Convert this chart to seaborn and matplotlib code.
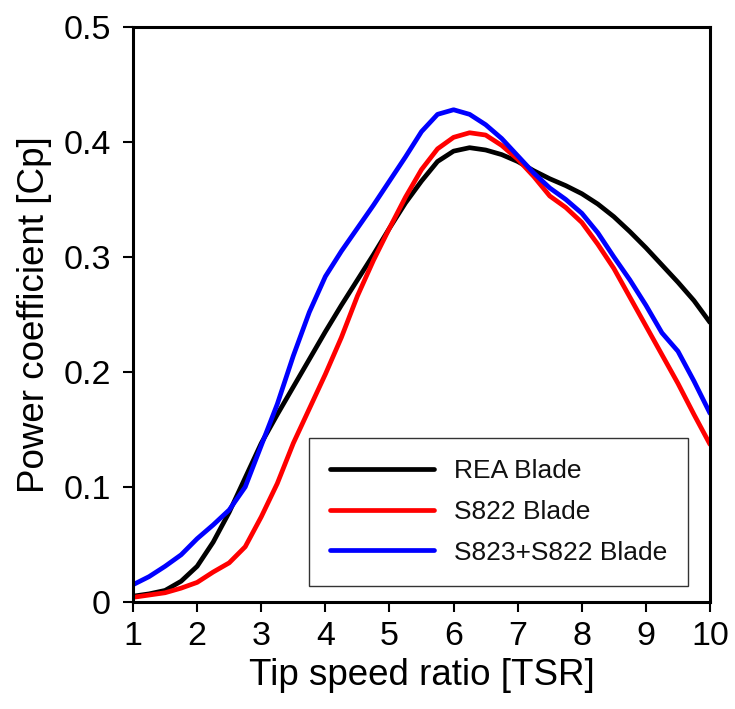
import matplotlib
matplotlib.use("Agg")
import matplotlib.pyplot as plt
import seaborn as sns
import pandas as pd

# Tip speed ratio grid
tsr = [1.0, 1.25, 1.5, 1.75, 2.0, 2.25, 2.5, 2.75, 3.0, 3.25, 3.5, 3.75,
       4.0, 4.25, 4.5, 4.75, 5.0, 5.25, 5.5, 5.75, 6.0, 6.25, 6.5, 6.75,
       7.0, 7.25, 7.5, 7.75, 8.0, 8.25, 8.5, 8.75, 9.0, 9.25, 9.5, 9.75, 10.0]

# Power coefficient for each blade design
cp_rea = [0.005, 0.007, 0.010, 0.018, 0.031, 0.052, 0.078, 0.108, 0.138, 0.163,
          0.187, 0.211, 0.235, 0.258, 0.280, 0.302, 0.325, 0.347, 0.366, 0.383,
          0.392, 0.395, 0.393, 0.389, 0.383, 0.375, 0.368, 0.362, 0.355, 0.346,
          0.335, 0.322, 0.308, 0.293, 0.278, 0.262, 0.243]
cp_s822 = [0.004, 0.006, 0.008, 0.012, 0.017, 0.026, 0.034, 0.048, 0.074, 0.103,
           0.138, 0.168, 0.198, 0.230, 0.266, 0.297, 0.325, 0.352, 0.376, 0.394,
           0.404, 0.408, 0.406, 0.397, 0.385, 0.370, 0.353, 0.343, 0.330, 0.311,
           0.290, 0.265, 0.240, 0.215, 0.190, 0.163, 0.137]
cp_s823_s822 = [0.015, 0.022, 0.031, 0.041, 0.055, 0.067, 0.080, 0.100, 0.136, 0.172,
                0.214, 0.252, 0.283, 0.305, 0.325, 0.345, 0.366, 0.387, 0.409, 0.424,
                0.428, 0.424, 0.415, 0.403, 0.388, 0.373, 0.360, 0.350, 0.338, 0.321,
                0.300, 0.280, 0.258, 0.234, 0.218, 0.192, 0.164]

labels = ["REA Blade", "S822 Blade", "S823+S822 Blade"]
colors = ["#000000", "#ff0000", "#0000ff"]

df = pd.concat([
    pd.DataFrame({"TSR": tsr, "Cp": cp_rea, "Blade": labels[0]}),
    pd.DataFrame({"TSR": tsr, "Cp": cp_s822, "Blade": labels[1]}),
    pd.DataFrame({"TSR": tsr, "Cp": cp_s823_s822, "Blade": labels[2]}),
], ignore_index=True)

sns.set_theme(style="white")
plt.rcParams["font.family"] = ["Liberation Sans", "DejaVu Sans"]
plt.rcParams["text.color"] = "black"
plt.rcParams["axes.labelcolor"] = "black"
plt.rcParams["xtick.color"] = "black"
plt.rcParams["ytick.color"] = "black"

fig = plt.figure(figsize=(7.35, 7.09), dpi=100)
ax = fig.add_axes([0.181, 0.151, 0.785, 0.811])

sns.lineplot(data=df, x="TSR", y="Cp", hue="Blade", hue_order=labels,
             palette=colors, linewidth=3.4, ax=ax, legend=False, sort=True,
             solid_joinstyle="round", solid_capstyle="round")

ax.set_xlim(1, 10)
ax.set_ylim(0, 0.5)
ax.set_xticks(range(1, 11))
ax.set_yticks([0, 0.1, 0.2, 0.3, 0.4, 0.5])
ax.set_yticklabels(["0", "0.1", "0.2", "0.3", "0.4", "0.5"])
ax.tick_params(axis="both", which="major", direction="out", length=7, width=1.5,
               labelsize=24.5, colors="black", bottom=True, left=True, pad=7)
ax.tick_params(axis="y", pad=9)
for s in ax.spines.values():
    s.set_visible(True)
    s.set_color("black")
    s.set_linewidth(2.2)

ax.set_xlabel("Tip speed ratio [TSR]", fontsize=26.5, labelpad=4)
ax.set_ylabel("Power coefficient [Cp]", fontsize=26.5, labelpad=8)

handles = [plt.Line2D([], [], color=c, linewidth=3.4) for c in colors]
leg = ax.legend(handles, labels, loc="lower right", bbox_to_anchor=(0.962, 0.028),
                fontsize=19, handlelength=3.95, handletextpad=0.75, labelspacing=0.64,
                borderpad=0.8, borderaxespad=0, frameon=True, fancybox=False,
                framealpha=1)
leg.get_frame().set_edgecolor("#333333")
leg.get_frame().set_linewidth(1.0)
for t in leg.get_texts():
    t.set_color("#111111")

fig.savefig("out.png", dpi=100)
